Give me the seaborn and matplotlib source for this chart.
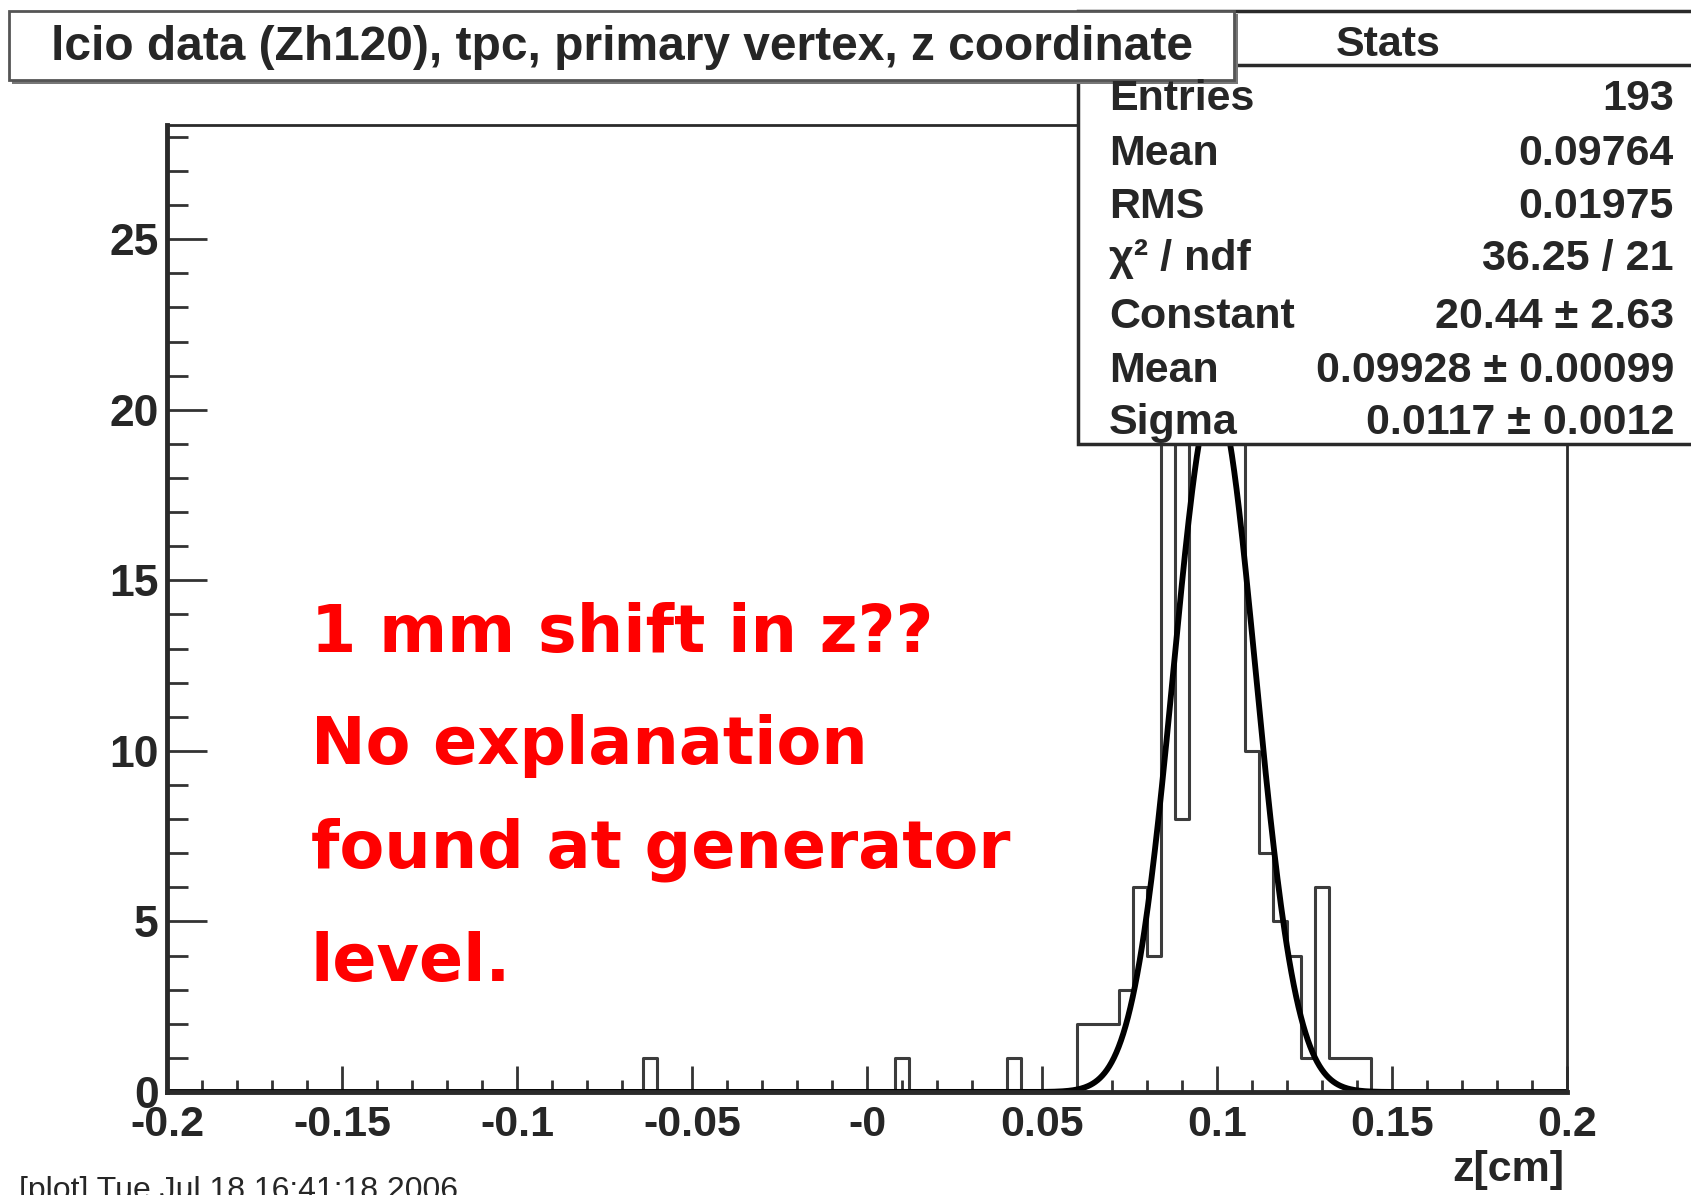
import numpy as np
import pandas as pd
import matplotlib
matplotlib.use("Agg")
import matplotlib.pyplot as plt
from matplotlib.patches import Rectangle
from matplotlib.lines import Line2D
import seaborn as sns

# histogram of primary vertex z [cm], 100 bins in [-0.2, 0.2], only the non-empty bins
z_centers = [-0.062, 0.010, 0.042, 0.062, 0.066, 0.070, 0.074, 0.078, 0.082,
             0.086, 0.090, 0.094, 0.098, 0.102, 0.106, 0.110, 0.114, 0.118,
             0.122, 0.126, 0.130, 0.134, 0.138, 0.142]
z_counts = [1, 1, 1, 2, 2, 2, 3, 6, 4,
            22, 8, 25, 27, 26, 27, 10, 7, 5,
            4, 1, 6, 1, 1, 1]

# gaussian fit results
fit_const = 20.44
fit_mean = 0.09928
fit_sigma = 0.0117

stats_labels = ["Entries", "Mean", "RMS", "\u03c7\u00b2 / ndf", "Constant", "Mean", "Sigma"]
stats_values = ["193", "0.09764", "0.01975", "36.25 / 21",
                "20.44 \u00b1 2.63", "0.09928 \u00b1 0.00099", "0.0117 \u00b1 0.0012"]

xtick_vals = [-0.2, -0.15, -0.1, -0.05, 0.0, 0.05, 0.1, 0.15, 0.2]
xtick_labels = ["-0.2", "-0.15", "-0.1", "-0.05", "-0", "0.05", "0.1", "0.15", "0.2"]
ytick_vals = [0, 5, 10, 15, 20, 25]

title = "lcio data (Zh120), tpc, primary vertex, z coordinate"
note_lines = ["1 mm shift in z??", "No explanation", "found at generator", "level."]
footer = "[plot] Tue Jul 18 16:41:18 2006"

W, H = 1691, 1195

sns.set_style("white")
root_font = ["Liberation Sans Narrow", "Liberation Sans", "DejaVu Sans"]
plt.rcParams["font.family"] = root_font


def fx(x):
    return x / W


def fy(y):
    return 1 - y / H


fig = plt.figure(figsize=(W / 100, H / 100), dpi=100)
ax = fig.add_axes([fx(167), fy(1092), fx(1567) - fx(167), fy(125) - fy(1092)])

hist_df = pd.DataFrame({"z": z_centers, "n": z_counts})
sns.histplot(data=hist_df, x="z", weights="n", binwidth=0.004, binrange=(-0.2, 0.2),
             element="step", fill=False, color="#3c3c3c", linewidth=2.2, ax=ax)

fit_x = np.linspace(-0.2, 0.2, 1200)
fit_y = fit_const * np.exp(-0.5 * ((fit_x - fit_mean) / fit_sigma) ** 2)
sns.lineplot(x=fit_x, y=fit_y, color="black", linewidth=4.2, ax=ax)

ax.set_xlim(-0.2, 0.2)
ax.set_ylim(0, 28.35)
ax.set_xlabel("")
ax.set_ylabel("")

ax.set_xticks(xtick_vals, xtick_labels)
ax.set_xticks(np.arange(-0.2, 0.2001, 0.01), minor=True)
ax.set_yticks(ytick_vals, [str(v) for v in ytick_vals])
ax.set_yticks(np.arange(0, 29, 1), minor=True)

ax.tick_params(axis="x", which="major", direction="in", length=19, width=2,
               color="#333333", pad=9, labelsize=31, bottom=True, top=False)
ax.tick_params(axis="x", which="minor", direction="in", length=9, width=2,
               color="#333333", bottom=True, top=False)
ax.tick_params(axis="y", which="major", direction="in", length=29, width=2,
               color="#333333", pad=6, labelsize=32, left=True, right=False)
ax.tick_params(axis="y", which="minor", direction="in", length=15, width=2,
               color="#333333", left=True, right=False)
for lab in ax.get_xticklabels() + ax.get_yticklabels():
    lab.set_fontweight("bold")

for side in ["left", "bottom"]:
    ax.spines[side].set_linewidth(3.5)
    ax.spines[side].set_color("#2a2a2a")
for side in ["top", "right"]:
    ax.spines[side].set_linewidth(2)
    ax.spines[side].set_color("#2a2a2a")

# red note
note_y = [652, 764, 868, 981]
for line, y in zip(note_lines, note_y):
    ax.text(fx(311), fy(y), line, transform=fig.transFigure, color="#ff0000",
            fontsize=47, fontweight="bold", family="DejaVu Sans", va="baseline",
            ha="left", zorder=4)

# stats box
fig.add_artist(Rectangle((fx(1078), fy(444)), fx(1720) - fx(1078), fy(11) - fy(444),
                         transform=fig.transFigure, facecolor="white",
                         edgecolor="#2a2a2a", linewidth=2.5, zorder=5))
fig.add_artist(Line2D([fx(1235), fx(1700)], [fy(65), fy(65)], transform=fig.transFigure,
                      color="#2a2a2a", linewidth=2.5, zorder=6))
fig.text(fx(1388), fy(45), "Stats", ha="center", va="center", fontsize=31,
         fontweight="bold", family=root_font, zorder=8)
stats_y = [99, 154, 207, 259, 317, 371, 423]
for lab, val, y in zip(stats_labels, stats_values, stats_y):
    fig.text(fx(1109), fy(y), lab, ha="left", va="center", fontsize=31,
             fontweight="bold", family=root_font, zorder=8)
    fig.text(fx(1674), fy(y), val, ha="right", va="center", fontsize=31,
             fontweight="bold", family=root_font, zorder=8)

# title box with shadow
fig.add_artist(Rectangle((fx(12), fy(84)), fx(1238) - fx(12), fy(14) - fy(84),
                         transform=fig.transFigure, facecolor="#777777",
                         edgecolor="none", zorder=6))
fig.add_artist(Rectangle((fx(9), fy(80)), fx(1234) - fx(9), fy(11) - fy(80),
                         transform=fig.transFigure, facecolor="white",
                         edgecolor="#555555", linewidth=2, zorder=7))
fig.text(fx(622), fy(47), title, ha="center", va="center", fontsize=34.5,
         fontweight="bold", family=root_font, zorder=8)

fig.text(fx(1564), fy(1170), "z[cm]", ha="right", va="center", fontsize=31,
         fontweight="bold", family=root_font)
fig.text(fx(19), fy(1176), footer, ha="left", va="top", fontsize=23,
         family=root_font)

fig.savefig("out.png", dpi=100, facecolor="white")
